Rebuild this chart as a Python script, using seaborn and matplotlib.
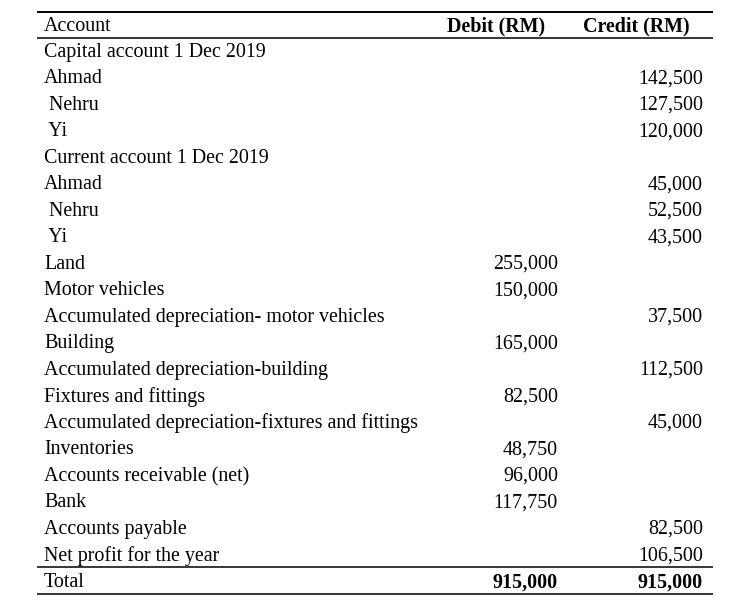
import matplotlib
matplotlib.use("Agg")
import matplotlib.pyplot as plt
import seaborn as sns
import numpy as np

# Trial balance data
accounts = ["Capital account 1 Dec 2019", "Ahmad", " Nehru", " Yi",
            "Current account 1 Dec 2019", "Ahmad", " Nehru", " Yi",
            "Land", "Motor vehicles", "Accumulated depreciation- motor vehicles",
            "Building", "Accumulated depreciation-building", "Fixtures and fittings",
            "Accumulated depreciation-fixtures and fittings", "Inventories",
            "Accounts receivable (net)", "Bank", "Accounts payable",
            "Net profit for the year"]
debit = [None, None, None, None, None, None, None, None,
         255000, 150000, None, 165000, None, 82500, None, 48750, 96000, 117750, None, None]
credit = [None, 142500, 127500, 120000, None, 45000, 52500, 43500,
          None, None, 37500, None, 112500, None, 45000, None, None, None, 82500, 106500]
headers = ["Account", "Debit (RM)", "Credit (RM)"]
total_label = "Total"

sns.set_theme(style="white")
plt.rcParams["font.family"] = ["Liberation Serif", "DejaVu Serif"]
plt.rcParams["text.color"] = "black"

fig = plt.figure(figsize=(7.53, 6.08), dpi=100)
ax = fig.add_axes([0, 0, 1, 1])
ax.set_xlim(0, 753)
ax.set_ylim(21.06, -1.887)
ax.axis("off")

fs = 14.4
x_left, x_deb, x_cred = 44, 558, 703
x_hdeb, x_hcred = 545, 690

def fmt(v):
    return "" if v is None else f"{v:,.0f}"

# header
ax.text(x_left, -1, headers[0], fontsize=fs, va="center_baseline", ha="left")
ax.text(x_hdeb, -1, headers[1], fontsize=fs, va="center_baseline", ha="right", fontweight="bold")
ax.text(x_hcred, -1, headers[2], fontsize=fs, va="center_baseline", ha="right", fontweight="bold")

for i, (acc, d, c) in enumerate(zip(accounts, debit, credit)):
    ax.text(x_left, i, acc, fontsize=fs, va="center_baseline", ha="left")
    ax.text(x_deb, i, fmt(d), fontsize=fs, va="center_baseline", ha="right")
    ax.text(x_cred, i, fmt(c), fontsize=fs, va="center_baseline", ha="right")

n = len(accounts)
tot_d = sum(v for v in debit if v is not None)
tot_c = sum(v for v in credit if v is not None)
ax.text(x_left, n, total_label, fontsize=fs, va="center_baseline", ha="left")
ax.text(x_deb, n, fmt(tot_d), fontsize=fs, va="center_baseline", ha="right", fontweight="bold")
ax.text(x_cred, n, fmt(tot_c), fontsize=fs, va="center_baseline", ha="right", fontweight="bold")

# rules
for y, lw in [(-1.434, 1.4), (-0.45, 1.1), (n - 0.49, 1.1), (n + 0.53, 1.1)]:
    ax.plot([37, 713], [y, y], color="black", lw=lw, solid_capstyle="butt")

fig.savefig("out.png", dpi=100, facecolor="white")
